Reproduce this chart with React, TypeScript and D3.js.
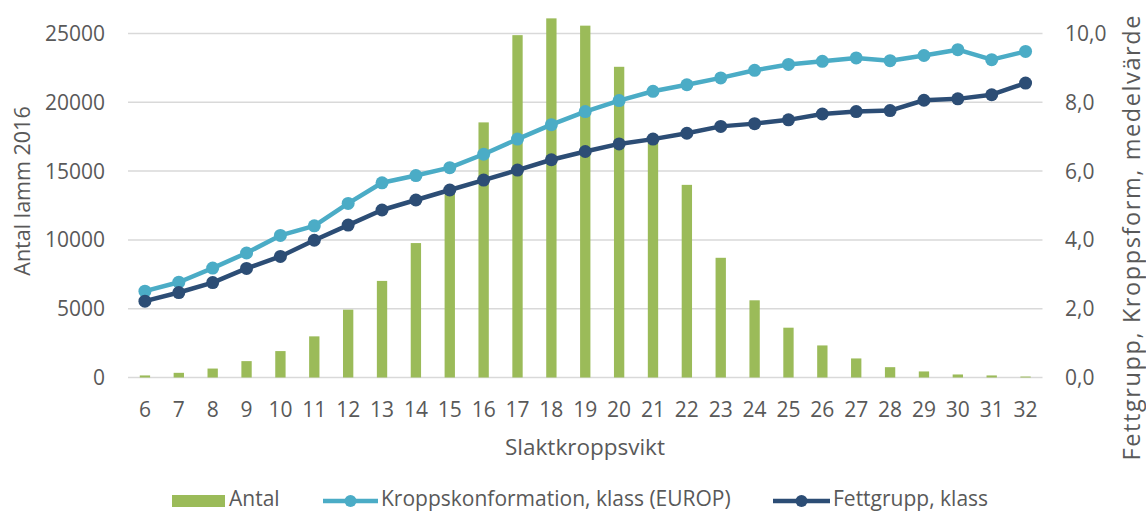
import React from "react";
import * as d3 from "d3";

const categories = [6, 7, 8, 9, 10, 11, 12, 13, 14, 15, 16, 17, 18, 19, 20, 21, 22, 23, 24, 25, 26, 27, 28, 29, 30, 31, 32];
const antal = [150, 340, 650, 1190, 1920, 2990, 4930, 7020, 9770, 13600, 18540, 24880, 26100, 25570, 22580, 17200, 14000, 8700, 5610, 3620, 2330, 1385, 750, 440, 220, 150, 70];
const kropp = [2.51, 2.77, 3.18, 3.62, 4.13, 4.41, 5.06, 5.66, 5.87, 6.1, 6.49, 6.93, 7.35, 7.73, 8.05, 8.32, 8.51, 8.71, 8.93, 9.1, 9.19, 9.29, 9.21, 9.36, 9.53, 9.24, 9.48];
const fett = [2.22, 2.47, 2.76, 3.17, 3.52, 3.99, 4.43, 4.87, 5.16, 5.45, 5.74, 6.03, 6.33, 6.57, 6.79, 6.93, 7.1, 7.3, 7.38, 7.49, 7.66, 7.73, 7.76, 8.06, 8.1, 8.22, 8.56];
const leftTicks = [0, 5000, 10000, 15000, 20000, 25000];
const rightTicks = [0, 2, 4, 6, 8, 10];

const W = 1146, H = 511;
const plotLeft = 128, plotRight = 1042.5;
const yZero = 377.5, yTop = 33.5;
const FONT = "'Open Sans', sans-serif";
const TXT = "#595959";
const C_BAR = "#9BBB59", C_K = "#4BACC6", C_F = "#2C4D75";

export default function App() {
  const x = d3.scaleBand<number>().domain(categories).range([plotLeft, plotRight]).paddingInner(0.695).paddingOuter(0.3475);
  const xc = (c: number) => (x(c) as number) + x.bandwidth() / 2;
  const yL = d3.scaleLinear().domain([0, 25000]).range([yZero, yTop]);
  const yR = d3.scaleLinear().domain([0, 10]).range([yZero, yTop]);
  const line = d3.line<number>().x((_, i) => xc(categories[i])).y((d) => yR(d));
  const fmtR = (v: number) => d3.format(".1f")(v).replace(".", ",");

  return (
    <svg width={W} height={H} style={{ position: "absolute", left: 0, top: 0, background: "#fff" }} fontFamily={FONT}>
      {leftTicks.map((t) => (
        <line key={"g" + t} x1={plotLeft} x2={plotRight} y1={yL(t)} y2={yL(t)} stroke="#d9d9d9" strokeWidth={1.5} />
      ))}
      {categories.map((c, i) => (
        <rect key={"b" + c} x={x(c)} y={yL(antal[i])} width={x.bandwidth()} height={yZero - yL(antal[i])} fill={C_BAR} />
      ))}
      <path d={line(kropp) || ""} fill="none" stroke={C_K} strokeWidth={4.5} strokeLinejoin="round" />
      {kropp.map((v, i) => (
        <circle key={"k" + i} cx={xc(categories[i])} cy={yR(v)} r={6.5} fill={C_K} />
      ))}
      <path d={line(fett) || ""} fill="none" stroke={C_F} strokeWidth={4.5} strokeLinejoin="round" />
      {fett.map((v, i) => (
        <circle key={"f" + i} cx={xc(categories[i])} cy={yR(v)} r={6.5} fill={C_F} />
      ))}
      {leftTicks.map((t) => (
        <text key={"lt" + t} x={105} y={yL(t)} dy="0.36em" textAnchor="end" fontSize={21} fill={TXT}>{t}</text>
      ))}
      {rightTicks.map((t) => (
        <text key={"rt" + t} x={1065} y={yR(t)} dy="0.36em" textAnchor="start" fontSize={21} fill={TXT}>{fmtR(t)}</text>
      ))}
      {categories.map((c) => (
        <text key={"xt" + c} x={xc(c)} y={417} textAnchor="middle" fontSize={21} fill={TXT}>{c}</text>
      ))}
      <text x={585} y={455} textAnchor="middle" fontSize={22.5} fill={TXT}>Slaktkroppsvikt</text>
      <text transform="translate(30,191) rotate(-90)" textAnchor="middle" fontSize={21.5} fill={TXT}>Antal lamm 2016</text>
      <text transform="translate(1140,238) rotate(-90)" textAnchor="middle" fontSize={23.5} textLength={445} lengthAdjust="spacing" fill={TXT}>Fettgrupp, Kroppsform, medelvärde</text>
      {/* legend */}
      <rect x={172} y={495} width={53} height={12} fill={C_BAR} />
      <text x={229} y={505.5} fontSize={21} fill={TXT}>Antal</text>
      <line x1={323} x2={378} y1={501} y2={501} stroke={C_K} strokeWidth={4.5} />
      <circle cx={350.5} cy={501} r={6} fill={C_K} />
      <text x={381} y={505.5} fontSize={21} fill={TXT}>Kroppskonformation, klass (EUROP)</text>
      <line x1={773} x2={830} y1={501} y2={501} stroke={C_F} strokeWidth={4.5} />
      <circle cx={801.5} cy={501} r={6} fill={C_F} />
      <text x={833} y={505.5} fontSize={21} fill={TXT}>Fettgrupp, klass</text>
    </svg>
  );
}
